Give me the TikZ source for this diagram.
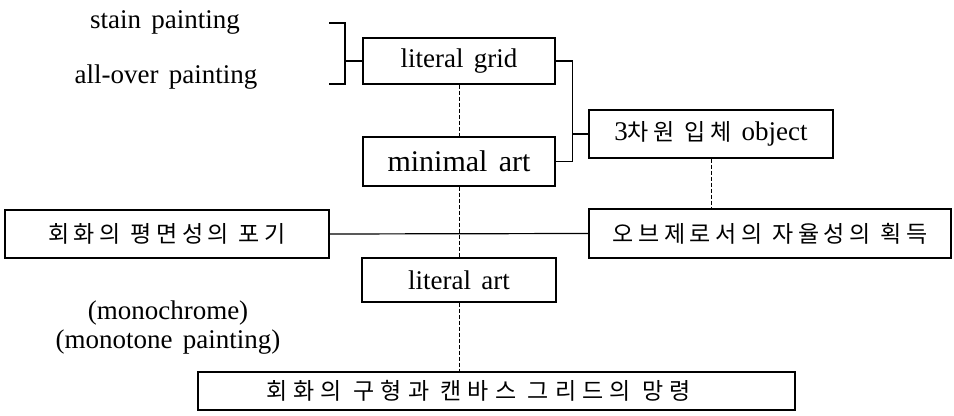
\documentclass[tikz,border=0pt]{standalone}
\usepackage{fontspec}
\setmainfont[WordSpace=1.5]{Liberation Serif}
\newfontfamily\kr[LetterSpace=20]{Noto Sans CJK KR}
\newfontfamily\krwide[LetterSpace=27]{Noto Sans CJK KR}
\begin{document}
\begin{tikzpicture}[x=0.5pt,y=-0.5pt,
  lat/.style={font=\fontsize{13.5}{14.5}\selectfont, inner sep=0pt},
  box/.style={draw, line width=0.75pt, inner sep=0pt, font=\fontsize{13.5}{14.5}\selectfont},
  conn/.style={line width=0.6pt},
  dashline/.style={line width=0.5pt, dash pattern=on 2pt off 1pt}]
\useasboundingbox (0,0) rectangle (954,416);
% labels
\node[lat] (stain) at (165,22) {stain painting};
\node[lat] (allover) at (166,77) {all-over painting};
\node[lat, align=center, font=\fontsize{13.5}{14.5}\selectfont] (mono) at (168,328) {(monochrome)\\(monotone painting)};
% boxes
\node[box, minimum width=96pt, minimum height=23pt] (grid) at (459,61) {literal grid};
\node[box, minimum width=96pt, minimum height=24.5pt, font=\fontsize{15}{16}\selectfont] (minimal) at (459,161.5) {minimal art};
\node[box, minimum width=122pt, minimum height=24pt] (obj3) at (711,134) {3{\kr\fontsize{11.5}{12}\selectfont 차원 입체} object};
\node[box, minimum width=181pt, minimum height=24.5pt, font=\kr\fontsize{11.5}{12}\selectfont] (auto) at (770,233.5) {오브제로서의 자율성의 획득};
\node[box, minimum width=162pt, minimum height=24pt, font=\kr\fontsize{11.5}{12}\selectfont] (flat) at (167,234) {회화의 평면성의 포기};
\node[box, minimum width=97pt, minimum height=22pt] (litart) at (459,280) {literal art};
\node[box, minimum width=298.5pt, minimum height=19pt, font=\krwide\fontsize{11.5}{12}\selectfont] (ghost) at (496.5,391) {회화의 구형과 캔바스 그리드의 망령\hspace*{18pt}};
% left bracket
\coordinate (bl1) at (329,23);
\coordinate (bl2) at (329,84);
\draw[conn] (bl1) -- ++(16,0) coordinate (bk) |- (bl2);
\draw[conn] (grid.west) -- (grid.west -| bk);
% right bracket
\draw[conn] (grid.east) -- ++(17,0) coordinate (rb) |- (minimal.east);
\draw[conn] (obj3.west) -- (obj3.west -| rb);
% dashed links
\draw[dashline] (grid.south) -- (minimal.north);
\draw[dashline] (minimal.south) -- (litart.north);
\draw[dashline] (litart.south) -- (litart.south |- ghost.north);
\draw[dashline] (obj3.south) -- (obj3.south |- auto.north);
% solid link
\draw[conn] (flat.east) -- (auto.west);
\end{tikzpicture}
\end{document}
